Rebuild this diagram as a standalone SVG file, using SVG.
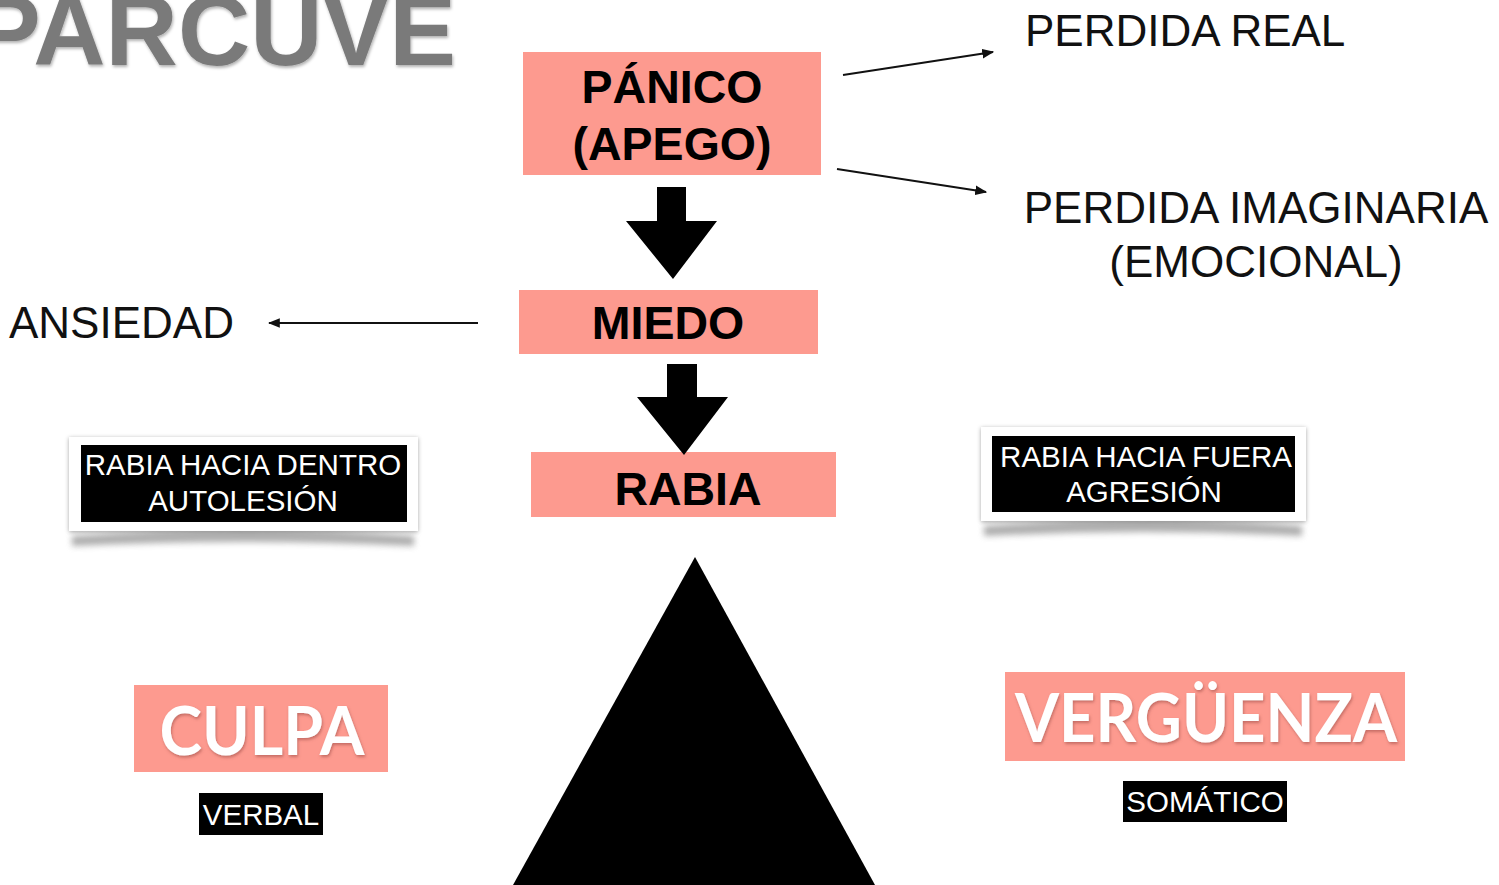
<svg xmlns="http://www.w3.org/2000/svg" width="1499" height="885" viewBox="0 0 1499 885">
<style>
.pink{fill:#fd9a8f}
.sans{font-family:"Liberation Sans",Arial,sans-serif}
.big{font-family:"Liberation Sans",Arial,sans-serif;font-size:44px;fill:#111}
.bold{font-family:"Liberation Sans",Arial,sans-serif;font-weight:bold;font-size:46.5px;fill:#000;text-anchor:middle}
.lbl{font-family:"Liberation Sans",Arial,sans-serif;font-size:29.5px;fill:#fff;text-anchor:middle}
.geo{font-family:Lato,"DejaVu Sans",sans-serif;font-weight:bold;font-size:66px;fill:#fff;text-anchor:middle}
.thin{stroke:#111;stroke-width:2;fill:none;marker-end:url(#ah)}
</style>
<defs>
<marker id="ah" viewBox="0 0 10 10" refX="9" refY="5" markerWidth="6" markerHeight="6" orient="auto" markerUnits="strokeWidth">
<path d="M0,1 L10,5 L0,9 z" fill="#111"/>
</marker>
<filter id="card" x="-10%" y="-20%" width="120%" height="150%">
<feDropShadow dx="0" dy="1" stdDeviation="2" flood-color="#000" flood-opacity="0.35"/>
</filter>
<filter id="blur" x="-10%" y="-100%" width="120%" height="300%">
<feGaussianBlur stdDeviation="3"/>
</filter>
<filter id="tsh" x="-10%" y="-20%" width="120%" height="150%">
<feDropShadow dx="1" dy="2" stdDeviation="1.5" flood-color="#a0504a" flood-opacity="0.6"/>
</filter>
<filter id="gsh" x="-10%" y="-20%" width="120%" height="150%">
<feDropShadow dx="1" dy="2" stdDeviation="1.5" flood-color="#000" flood-opacity="0.3"/>
</filter>
</defs>
<rect width="1499" height="885" fill="#fff"/>

<g id="title">
<text x="-26" y="65" class="sans" font-weight="bold" font-size="100" fill="#7a7a7a" filter="url(#gsh)" textLength="482" lengthAdjust="spacingAndGlyphs">PARCUVE</text>
</g>

<g id="panico">
<rect class="pink" x="523" y="52" width="298" height="123"/>
<text class="bold" x="672" y="103">PÁNICO</text>
<text class="bold" x="672" y="160">(APEGO)</text>
</g>

<g id="miedo">
<rect class="pink" x="519" y="290" width="299" height="64"/>
<text class="bold" x="668" y="339">MIEDO</text>
</g>

<g id="rabia">
<rect class="pink" x="531" y="452" width="305" height="65"/>
<text class="bold" x="688" y="505" font-size="47.5">RABIA</text>
</g>

<g id="perdida-real">
<text class="big" x="1025" y="46">PERDIDA REAL</text>
</g>

<g id="perdida-imaginaria">
<text class="big" x="1256" y="223" text-anchor="middle">PERDIDA IMAGINARIA</text>
<text class="big" x="1256" y="277" text-anchor="middle">(EMOCIONAL)</text>
</g>

<g id="ansiedad">
<text class="big" x="9" y="338">ANSIEDAD</text>
</g>

<g id="rabia-dentro">
<path d="M72,536 Q243,524 414,536 L414,546 Q243,538 72,546 z" fill="#777" opacity="0.6" filter="url(#blur)"/>
<rect x="69" y="437" width="349" height="94" fill="#fff" filter="url(#card)"/>
<rect x="81" y="445" width="326" height="77" fill="#000"/>
<text class="lbl" x="243" y="475">RABIA HACIA DENTRO</text>
<text class="lbl" x="243" y="511">AUTOLESIÓN</text>
</g>

<g id="rabia-fuera">
<path d="M984,526 Q1143,514 1302,526 L1302,536 Q1143,528 984,536 z" fill="#777" opacity="0.6" filter="url(#blur)"/>
<rect x="981" y="427" width="325" height="94" fill="#fff" filter="url(#card)"/>
<rect x="992" y="436" width="303" height="76" fill="#000"/>
<text class="lbl" x="1146" y="467">RABIA HACIA FUERA</text>
<text class="lbl" x="1144" y="502">AGRESIÓN</text>
</g>

<g id="culpa">
<rect class="pink" x="134" y="685" width="254" height="87"/>
<text class="geo" x="262" y="755" filter="url(#tsh)" textLength="205" lengthAdjust="spacingAndGlyphs">CULPA</text>
</g>

<g id="verbal">
<rect x="199" y="793" width="124" height="42" fill="#000"/>
<text class="lbl" x="261" y="825" font-size="28">VERBAL</text>
</g>

<g id="verguenza">
<rect class="pink" x="1005" y="672" width="400" height="89"/>
<text class="geo" x="1206" y="742" filter="url(#tsh)" textLength="382" lengthAdjust="spacingAndGlyphs">VERGÜENZA</text>
</g>

<g id="somatico">
<rect x="1123" y="781" width="164" height="41" fill="#000"/>
<text class="lbl" x="1205" y="812" font-size="28.5">SOMÁTICO</text>
</g>

<g id="triangle">
<polygon points="695,557 875,885 513,885" fill="#000"/>
</g>

<g id="connectors">
<polygon points="657,187 686,187 686,221 717,221 673,279 626,221 657,221" fill="#000"/>
<polygon points="667,364 697,364 697,397 728,397 684,455 637,397 667,397" fill="#000"/>
<line class="thin" x1="843" y1="75" x2="993" y2="52"/>
<line class="thin" x1="837" y1="169" x2="986" y2="192"/>
<line class="thin" x1="478" y1="323" x2="269" y2="323"/>
</g>
</svg>
